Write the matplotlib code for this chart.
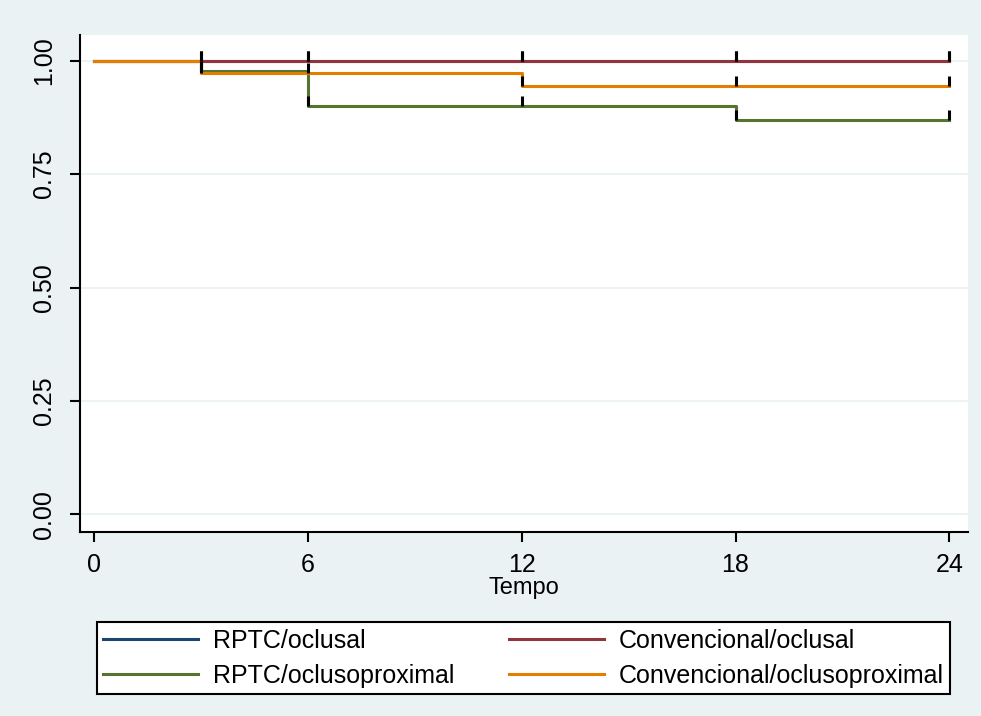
import matplotlib
matplotlib.use('Agg')
import matplotlib.pyplot as plt
import numpy as np

plt.rcParams['font.family'] = ['Liberation Sans', 'DejaVu Sans']

# Kaplan-Meier step data (time, survival)
labels = ['RPTC/oclusal', 'Convencional/oclusal',
          'RPTC/oclusoproximal', 'Convencional/oclusoproximal']
colors = ['#1a476f', '#90353b', '#55752f', '#e37e00']

rptc_ocl_t = [0, 24]
rptc_ocl_s = [1.0, 1.0]
conv_ocl_t = [0, 24]
conv_ocl_s = [1.0, 1.0]
rptc_prox_t = [0, 3, 6, 18, 24]
rptc_prox_s = [1.0, 0.978, 0.901, 0.869, 0.869]
conv_prox_t = [0, 3, 12, 24]
conv_prox_s = [1.0, 0.973, 0.945, 0.945]

# censoring times
rptc_ocl_c = [3, 6, 12, 18, 24]
conv_ocl_c = [3, 6, 12, 18, 24]
rptc_prox_c = [3, 6, 12, 18, 24]
conv_prox_c = [3, 6, 12, 18, 24]

series = [
    (rptc_ocl_t, rptc_ocl_s, rptc_ocl_c),
    (conv_ocl_t, conv_ocl_s, conv_ocl_c),
    (rptc_prox_t, rptc_prox_s, rptc_prox_c),
    (conv_prox_t, conv_prox_s, conv_prox_c),
]

bg = '#eaf2f3'
fig = plt.figure(figsize=(9.81, 7.16), dpi=100, facecolor=bg)
ax = fig.add_axes([80/981, 1-531.7/716, (968-80)/981, (531.7-35)/716])
ax.set_facecolor('white')

for yv in [0, 0.25, 0.5, 0.75, 1.0]:
    ax.axhline(yv, color=bg, lw=1.3, zorder=0)

def surv_at(t, s, x):
    # value just after x (right-continuous)
    idx = np.searchsorted(t, x, side='right') - 1
    return s[max(idx, 0)]

handles = []
for (t, s, c), col, lab in zip(series, colors, labels):
    h, = ax.step(t, s, where='post', color=col, lw=2.2, label=lab, zorder=2)
    handles.append(h)
    for x in c:
        y = surv_at(np.array(t), s, x)
        ax.plot([x, x], [y, y + 0.022], color='black', lw=2.2,
                solid_capstyle='butt', zorder=3)

ax.set_xlim(-0.401, 24.525)
ax.set_ylim(-0.0384, 1.0567)
ax.set_xticks([0, 6, 12, 18, 24])
ax.set_yticks([0, 0.25, 0.5, 0.75, 1.0])
ax.set_yticklabels(['0.00', '0.25', '0.50', '0.75', '1.00'],
                   rotation=90, va='center')
for sp in ['top', 'right']:
    ax.spines[sp].set_visible(False)
for sp in ['left', 'bottom']:
    ax.spines[sp].set_linewidth(1.5)
ax.tick_params(axis='both', length=7, width=1.5, labelsize=18, pad=8)
ax.tick_params(axis='y', pad=10)
ax.set_xlabel('Tempo', fontsize=17, labelpad=0)

# legend filled row by row, as in the original
order = [0, 2, 1, 3]
leg = fig.legend([handles[i] for i in order], [labels[i] for i in order],
                 loc='lower left', ncol=2, mode='expand',
                 bbox_to_anchor=(96.7/981, 1-694/716, (950-96.7)/981, (694-611.7)/716),
                 fontsize=18, frameon=True, fancybox=False, edgecolor='black',
                 facecolor='white', framealpha=1,
                 handlelength=3.8, handletextpad=0.6, borderpad=0.25,
                 labelspacing=0.45, columnspacing=1.0, borderaxespad=0)
leg.get_frame().set_linewidth(1.5)

fig.savefig('out.png', dpi=100, facecolor=bg)
